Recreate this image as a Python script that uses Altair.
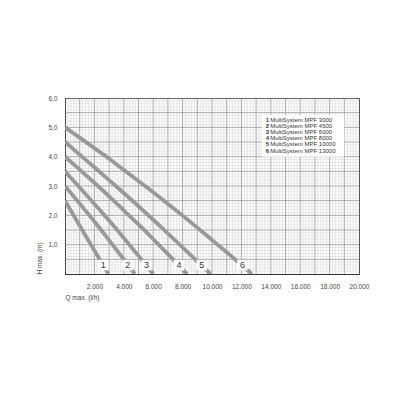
import altair as alt
import pandas as pd

# ---- data ----
pumps = [1, 2, 3, 4, 5, 6]
q_1 = [0, 1000, 2000, 2950]
h_1 = [2.5, 1.65, 0.80, 0.0]
q_2 = [0, 1000, 2000, 3000, 4000, 4750]
h_2 = [3.0, 2.40, 1.79, 1.15, 0.50, 0.0]
q_3 = [0, 1000, 2000, 3000, 4000, 5000, 6000]
h_3 = [3.5, 2.95, 2.39, 1.82, 1.23, 0.62, 0.0]
q_4 = [0, 1000, 2000, 3000, 4000, 5000, 6000, 7000, 8000, 8300]
h_4 = [4.0, 3.56, 3.11, 2.65, 2.17, 1.69, 1.19, 0.68, 0.16, 0.0]
q_5 = [0, 1000, 2000, 3000, 4000, 5000, 6000, 7000, 8000, 9000, 9900]
h_5 = [4.5, 4.07, 3.64, 3.20, 2.76, 2.31, 1.85, 1.38, 0.91, 0.43, 0.0]
q_6 = [0, 1000, 2000, 3000, 4000, 5000, 6000, 7000, 8000, 9000, 10000, 11000, 12000, 12700]
h_6 = [5.0, 4.65, 4.29, 3.93, 3.55, 3.17, 2.79, 2.39, 1.99, 1.58, 1.16, 0.74, 0.31, 0.0]

curve_q = [q_1, q_2, q_3, q_4, q_5, q_6]
curve_h = [h_1, h_2, h_3, h_4, h_5, h_6]

label_text = ["1", "2", "3", "4", "5", "6"]
label_q = [2600, 4270, 5550, 7750, 9300, 12070]
label_h = [0.3, 0.3, 0.3, 0.3, 0.3, 0.3]

legend_nums = ["1", "2", "3", "4", "5", "6"]
legend_names = [
    "MultiSystem MPF 3000",
    "MultiSystem MPF 4500",
    "MultiSystem MPF 6000",
    "MultiSystem MPF 8000",
    "MultiSystem MPF 10000",
    "MultiSystem MPF 13000",
]

x_ticks = [2000, 4000, 6000, 8000, 10000, 12000, 14000, 16000, 18000, 20000]
y_ticks = [1, 2, 3, 4, 5, 6]

FONT = "Liberation Sans"

# ---- tables ----
lines_df = pd.DataFrame(
    [{"q": q, "h": h, "pump": p} for p, qs, hs in zip(pumps, curve_q, curve_h) for q, h in zip(qs, hs)]
)
labels_df = pd.DataFrame({"q": label_q, "h": label_h, "t": label_text})
legend_df = pd.DataFrame(
    {
        "num": legend_nums,
        "name": legend_names,
        "q": [13650] * 6,
        "h": [5.26 - i * 0.21 for i in range(6)],
    }
)
legend_box = pd.DataFrame({"q": [13400], "q2": [19000], "h": [4.0], "h2": [5.42]})

fine_v = pd.DataFrame({"q": [v for v in range(200, 20000, 200) if v % 1000 != 0]})
fine_h = pd.DataFrame({"h": [i / 10 for i in range(1, 60) if i % 5 != 0]})
med_v = pd.DataFrame({"q": list(range(1000, 20000, 1000))})
med_h = pd.DataFrame({"h": [i / 2 for i in range(1, 12)]})

xs = alt.Scale(domain=[0, 20000], nice=False, zero=True)
ys = alt.Scale(domain=[0, 6], nice=False, zero=True)

x_axis = alt.Axis(
    values=x_ticks,
    labelExpr="replace(format(datum.value, ','), ',', '.')",
    grid=False,
    ticks=False,
    domainColor="#333333",
    domainWidth=1,
    labelFont=FONT,
    labelFontSize=6.5,
    labelColor="#444444",
    labelPadding=9,
    labelFlush=False,
    labelOverlap=False,
    labelBound=False,
    title="Q max. (l/h)",
    titleFont=FONT,
    titleFontSize=6.5,
    titleFontWeight="normal",
    titleColor="#444444",
    titleX=0,
    titleY=23,
    titleAlign="left",
    titleBaseline="middle",
)
y_axis = alt.Axis(
    values=y_ticks,
    labelExpr="replace(format(datum.value, '.1f'), '.', ',')",
    grid=False,
    ticks=False,
    domainColor="#333333",
    domainWidth=1,
    labelFont=FONT,
    labelFontSize=6.5,
    labelColor="#444444",
    labelPadding=8,
    labelFlush=False,
    labelOverlap=False,
    title="H max. (m)",
    titleFont=FONT,
    titleFontSize=6.5,
    titleFontWeight="normal",
    titleColor="#444444",
    titleX=-26,
    titleY=176,
    titleAngle=270,
    titleAlign="left",
    titleBaseline="middle",
)


def X(f="q"):
    return alt.X(f"{f}:Q", scale=xs, axis=x_axis)


def Y(f="h"):
    return alt.Y(f"{f}:Q", scale=ys, axis=y_axis)


fine_v_l = alt.Chart(fine_v).mark_rule(color="#d2d2d2", strokeWidth=0.5).encode(x=X())
fine_h_l = alt.Chart(fine_h).mark_rule(color="#d2d2d2", strokeWidth=0.5).encode(y=Y())
med_v_l = alt.Chart(med_v).mark_rule(color="#8a8a8a", strokeWidth=0.7).encode(x=X())
med_h_l = alt.Chart(med_h).mark_rule(color="#8a8a8a", strokeWidth=0.7).encode(y=Y())

curves = (
    alt.Chart(lines_df)
    .mark_line(color="#999999", strokeWidth=3.8, interpolate="monotone", clip=True, strokeCap="butt")
    .encode(x=X(), y=Y(), detail="pump:N", order="q:Q")
)

box = alt.Chart(legend_box).mark_rect(color="white").encode(
    x=X(), x2="q2:Q", y=Y(), y2="h2:Q"
)
leg_num = alt.Chart(legend_df).mark_text(
    align="left", baseline="middle", font=FONT, fontSize=6, fontWeight="bold", color="#333333"
).encode(x=X(), y=Y(), text="num:N")
leg_name = alt.Chart(legend_df).mark_text(
    align="left", baseline="middle", font=FONT, fontSize=6, color="#333333", dx=4.5
).encode(x=X(), y=Y(), text="name:N")

lab_box = alt.Chart(labels_df).mark_square(color="white", opacity=1, size=110).encode(x=X(), y=Y())
lab_txt = alt.Chart(labels_df).mark_text(
    align="center", baseline="middle", font=FONT, fontSize=9, color="#333333"
).encode(x=X(), y=Y(), text="t:N")

chart = (
    alt.layer(fine_v_l, fine_h_l, med_v_l, med_h_l, curves, box, leg_num, leg_name, lab_box, lab_txt)
    .properties(
        width=294,
        height=176,
        autosize=alt.AutoSizeParams(type="none"),
        padding={"left": 57, "top": 90, "right": 33, "bottom": 118},
        background="white",
    )
    .configure_view(stroke="#555555", strokeWidth=1)
)

chart.save("out.html", embed_options={"renderer": "svg", "actions": False})
